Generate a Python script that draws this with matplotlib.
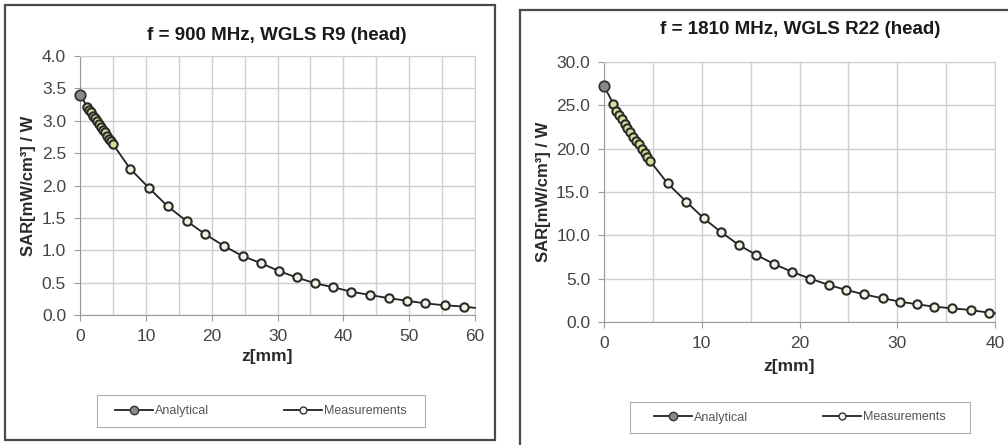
import numpy as np
import matplotlib
matplotlib.use("Agg")
import matplotlib.pyplot as plt
from matplotlib.lines import Line2D
from matplotlib.patches import Rectangle
from matplotlib.ticker import MultipleLocator, FormatStrFormatter

plt.rcParams['font.family'] = ['Liberation Sans', 'DejaVu Sans']

# ---- f = 900 MHz panel ----
z_900_analytical = [0.0, 60.0]
sar_900_analytical_ends = [3.40, 0.11]
z_900_meas = [1.1, 1.4, 1.7, 2.0, 2.3, 2.6, 2.9, 3.2, 3.5, 3.8, 4.1, 4.4, 4.7, 5.0,
              7.6, 10.5, 13.3, 16.2, 19.0, 21.8, 24.7, 27.5, 30.2, 32.9, 35.7,
              38.4, 41.2, 44.0, 46.9, 49.7, 52.4, 55.4, 58.3]
sar_900_meas = [3.22, 3.17, 3.13, 3.08, 3.04, 3.00, 2.95, 2.91, 2.86, 2.82, 2.77, 2.72, 2.68, 2.64,
                2.26, 1.96, 1.68, 1.45, 1.25, 1.07, 0.91, 0.80, 0.68, 0.58, 0.49,
                0.43, 0.36, 0.31, 0.26, 0.22, 0.18, 0.15, 0.13]

# ---- f = 1810 MHz panel ----
z_1810_analytical = [0.0, 40.0]
sar_1810_analytical_ends = [27.2, 1.0]
z_1810_meas = [0.95, 1.25, 1.55, 1.85, 2.1, 2.4, 2.7, 3.0, 3.3, 3.55, 3.85, 4.15, 4.45, 4.7,
               6.5, 8.4, 10.2, 12.0, 13.8, 15.6, 17.4, 19.2, 21.1, 23.0, 24.8, 26.6,
               28.5, 30.3, 32.0, 33.8, 35.6, 37.5, 39.4]
sar_1810_meas = [25.2, 24.4, 23.9, 23.4, 22.9, 22.4, 21.9, 21.4, 20.9, 20.5, 20.0, 19.5, 19.0, 18.6,
                 16.0, 13.9, 11.96, 10.35, 8.88, 7.73, 6.69, 5.8, 5.0, 4.27, 3.69, 3.19,
                 2.73, 2.35, 2.04, 1.77, 1.58, 1.38, 1.07]

titles = ["f = 900 MHz, WGLS R9 (head)", "f = 1810 MHz, WGLS R22 (head)"]

W, H = 1008, 445
fig = plt.figure(figsize=(W / 100, H / 100), dpi=100)


def fx(px):
    return px / W


def fy(py):
    return 1 - py / H


# frames round each chart
fig.patches.append(Rectangle((fx(5), fy(440)), fx(490), (435) / H, transform=fig.transFigure,
                             fill=False, edgecolor='#4a4a4a', linewidth=1.6))
fig.patches.append(Rectangle((fx(520), fy(447)), fx(492), (437) / H, transform=fig.transFigure,
                             fill=False, edgecolor='#4a4a4a', linewidth=1.6))

line_col = '#222222'


def draw_panel(rect, z_an, sar_an_ends, z_m, sar_m, xmax, ymax, ystep, title, title_xy, xlabel_y, leg_rect):
    ax = fig.add_axes(rect)
    # analytical curve: end points plus the measured shape in between
    z_curve = [z_an[0]] + z_m + [z_an[1]]
    sar_curve = [sar_an_ends[0]] + sar_m + [sar_an_ends[1]]
    ax.plot(z_curve, sar_curve, color=line_col, lw=1.3, zorder=3, clip_on=False)
    ax.plot(z_an[:1], sar_an_ends[:1], 'o', ms=7.5, mfc='#8a8a8a', mec='#333333', mew=1.3, zorder=4,
            clip_on=False)
    ax.plot(z_m[:14], sar_m[:14], 'o', ms=6, mfc='#d9dc98', mec='#2a2a2a', mew=1.5, zorder=5, clip_on=False)
    ax.plot(z_m[14:], sar_m[14:], 'o', ms=6, mfc='#f2f2e2', mec='#2a2a2a', mew=1.5, zorder=5, clip_on=False)

    ax.set_xlim(0, xmax)
    ax.set_ylim(0, ymax)
    ax.xaxis.set_major_locator(MultipleLocator(10))
    ax.xaxis.set_minor_locator(MultipleLocator(5))
    ax.yaxis.set_major_locator(MultipleLocator(ystep))
    ax.yaxis.set_major_formatter(FormatStrFormatter('%.1f'))
    ax.grid(True, which='both', color='#cfcfcf', lw=1.0)
    ax.set_axisbelow(True)
    for s in ax.spines.values():
        s.set_color('#cfcfcf')
    ax.spines['left'].set_color('#9a9a9a')
    ax.spines['bottom'].set_color('#9a9a9a')
    ax.tick_params(which='major', length=4, color='#9a9a9a', labelsize=12.5, labelcolor='#444444', pad=6)
    ax.tick_params(which='minor', length=0)
    ax.set_ylabel('SAR[mW/cm³] / W', fontsize=12, fontweight='bold', color='#2a2a2a', labelpad=4)
    fig.text(title_xy[0], title_xy[1], title, ha='center', va='center', fontsize=13.5,
             fontweight='bold', color='#1a1a1a')
    fig.text(rect[0] + rect[2] / 2 - 0.01, xlabel_y, 'z[mm]', ha='center', va='center', fontsize=12.5,
             fontweight='bold', color='#2a2a2a')

    lax = fig.add_axes(leg_rect)
    lax.set_xticks([])
    lax.set_yticks([])
    for s in lax.spines.values():
        s.set_color('#b0b0b0')
    handles = [Line2D([], [], color=line_col, lw=1.3, marker='o', ms=6, mfc='#8a8a8a', mec='#333333'),
               Line2D([], [], color=line_col, lw=1.3, marker='o', ms=5, mfc='#f4f4f0', mec='#333333')]
    lax.legend(handles, ['Analytical', 'Measurements'], loc='center', ncol=2, frameon=False,
               fontsize=9, labelcolor='#555555', handlelength=3.0, handletextpad=0.2, columnspacing=6)
    return ax


draw_panel([fx(80), fy(315), fx(475) - fx(80), fy(56) - fy(315)],
           z_900_analytical, sar_900_analytical_ends, z_900_meas, sar_900_meas,
           60, 4.0, 0.5, titles[0], (fx(277), fy(35)), fy(356),
           [fx(97), fy(427), fx(425) - fx(97), fy(395) - fy(427)])

draw_panel([fx(604), fy(322), fx(995) - fx(604), fy(62) - fy(322)],
           z_1810_analytical, sar_1810_analytical_ends, z_1810_meas, sar_1810_meas,
           40, 30.0, 5.0, titles[1], (fx(800), fy(30)), fy(366),
           [fx(630), fy(433), fx(970) - fx(630), fy(402) - fy(433)])

fig.savefig('out.png', dpi=100)
